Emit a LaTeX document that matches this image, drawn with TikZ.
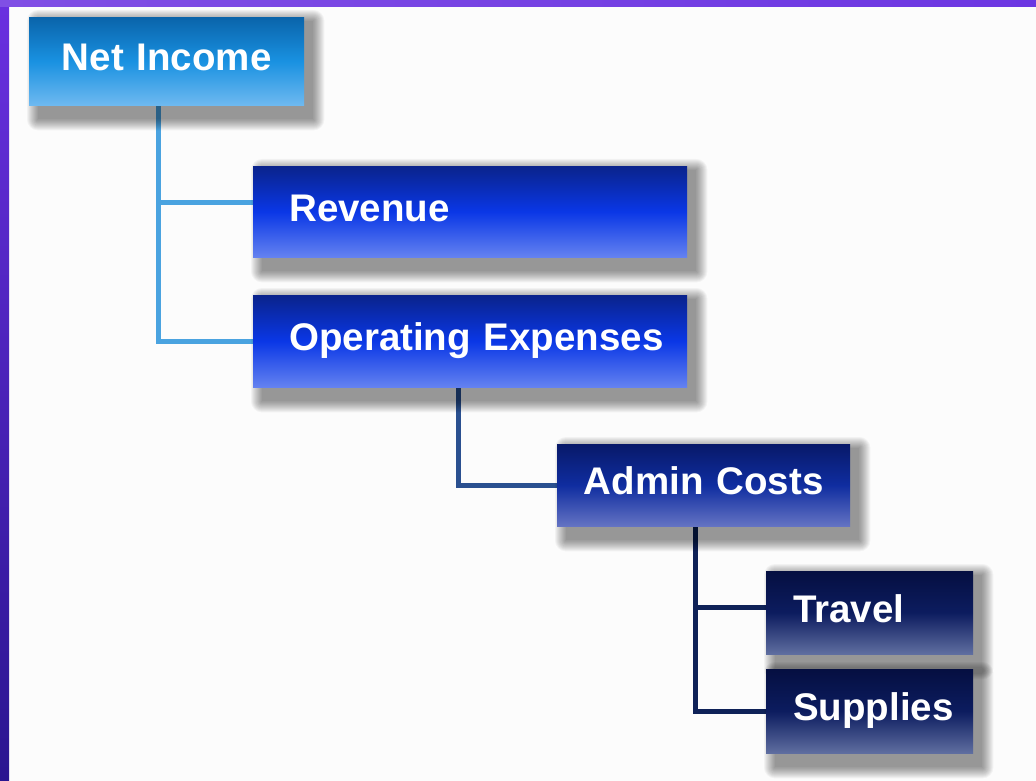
\documentclass[tikz,border=0pt]{standalone}
\usepackage{fontspec}
\setmainfont{Liberation Sans}
\usepackage{tikz}
\pgfdeclarelayer{bg}
\pgfdeclarelayer{links}
\pgfdeclarelayer{shade}
\pgfsetlayers{bg,links,shade,main}
\definecolor{bandtop}{HTML}{6A30E0}
\definecolor{bandbot}{HTML}{2A1590}
\definecolor{bandright}{HTML}{6C36E2}
\definecolor{linkA}{HTML}{4AA3E0}
\definecolor{linkB}{HTML}{2A5090}
\definecolor{linkC}{HTML}{0F2258}
% Verlaeufe der Boxen
\definecolor{skyT}{RGB}{10,100,170}
\definecolor{skyM}{RGB}{25,145,225}
\definecolor{skyB}{RGB}{110,185,240}
\definecolor{blueT}{RGB}{10,35,140}
\definecolor{blueM}{RGB}{10,55,230}
\definecolor{blueB}{RGB}{100,130,240}
\definecolor{navyT}{RGB}{8,25,105}
\definecolor{navyM}{RGB}{15,45,160}
\definecolor{navyB}{RGB}{100,115,195}
\definecolor{inkT}{RGB}{5,15,65}
\definecolor{inkM}{RGB}{12,28,95}
\definecolor{inkB}{RGB}{95,110,160}
\tikzset{
  tbox/.style={rectangle, anchor=north west, text=white, inner ysep=0pt,
    font=\bfseries\fontsize{38.5}{46}\selectfont, text height=27pt, text depth=8pt},
  shadeof/.style={top color=#1T, bottom color=#1B, middle color=#1M},
  line1/.style={draw=linkA, line width=5pt},
  line2/.style={draw=linkB, line width=5pt},
  line3/.style={draw=linkC, line width=5pt},
}
% weicher Schatten unter einer Box
\newcommand\softshadow[1]{%
  \begin{pgfonlayer}{shade}
  \foreach \k in {0,...,11}
    \fill[black, opacity=0.04, rounded corners=\k pt]
      ([xshift=9pt-\k pt, yshift=-4pt+\k pt]#1.north west) rectangle
      ([xshift=9pt+\k pt, yshift=-14pt-\k pt]#1.south east);
  \end{pgfonlayer}}
\begin{document}
\begin{tikzpicture}[x=1pt,y=-1pt]
\useasboundingbox (0,0) rectangle (1036,781);
%Hintergrund
\begin{pgfonlayer}{bg}
\fill[white!99!black] (0,0) rectangle (1036,781);
\shade[top color=bandtop, bottom color=bandbot] (0,0) rectangle (9,781);
\shade[left color=bandtop!85!white, right color=bandright] (0,0) rectangle (1036,7);
\end{pgfonlayer}
%Boxen
\node[tbox, shadeof=sky, minimum height=88pt, inner xsep=0pt, text width=275pt, align=center]
  (ni) at (29,17) {Net Income};
\node[tbox, shadeof=blue, minimum height=91pt, inner xsep=36pt, text width=362pt, align=left]
  (rev) at (253,166) {Revenue};
\node[tbox, shadeof=blue, minimum height=92pt, inner xsep=36pt, text width=362pt, align=left]
  (opx) at (253,295) {\mbox{Operating Expenses}};
\node[tbox, shadeof=navy, minimum height=82pt, inner xsep=0pt, text width=293pt, align=center]
  (adm) at (557,444) {Admin Costs};
\node[tbox, shadeof=ink, minimum height=83pt, inner xsep=27pt, text width=153pt, align=left]
  (trv) at (766,571) {Travel};
\node[tbox, shadeof=ink, minimum height=84pt, inner xsep=27pt, text width=153pt, align=left]
  (sup) at (766,669) {Supplies};
\foreach \b in {ni,rev,opx,adm,trv,sup} {\softshadow{\b}}
%Linien
\begin{pgfonlayer}{links}
\draw[line1] ([xshift=129pt]ni.south west) |- ([yshift=9pt]rev.west);
\draw[line1] ([xshift=129pt]ni.south west) |- (opx.west);
\draw[line2] ([xshift=205pt]opx.south west) |- (adm.west);
\draw[line3] ([xshift=138pt]adm.south west) |- ([yshift=5pt]trv.west);
\draw[line3] ([xshift=138pt]adm.south west) |- (sup.west);
\end{pgfonlayer}
\end{tikzpicture}
\end{document}
